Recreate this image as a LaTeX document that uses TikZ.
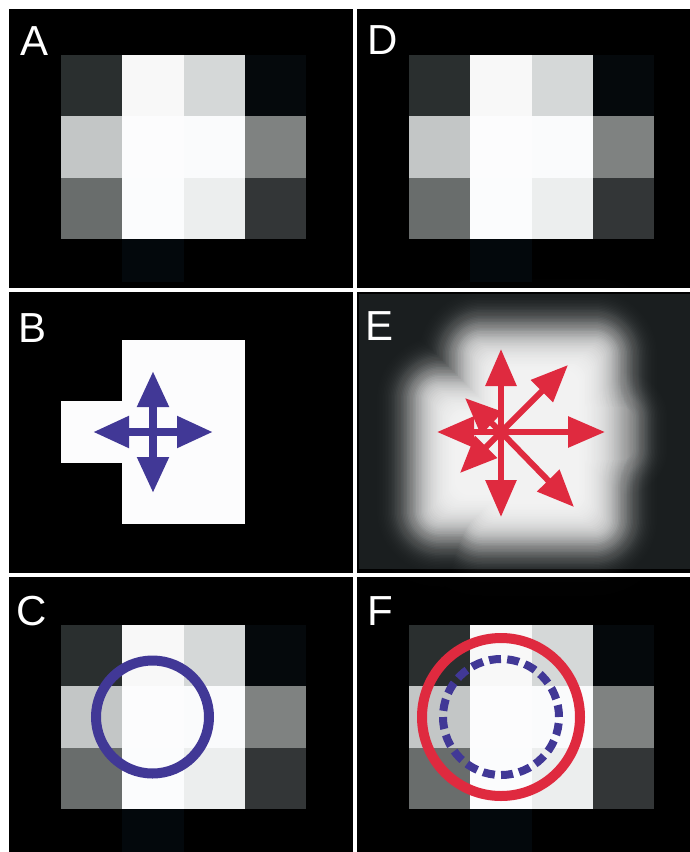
\documentclass[tikz,border=0pt]{standalone}
\usepackage{fontspec}
\setmainfont{Liberation Sans}
\usetikzlibrary{arrows.meta}

% grey levels of the 4x3 pixel grid
\definecolor{g11}{HTML}{2A2F2F}
\definecolor{g12}{HTML}{F8F8F8}
\definecolor{g13}{HTML}{D5D8D8}
\definecolor{g14}{HTML}{05090C}
\definecolor{g21}{HTML}{C3C6C6}
\definecolor{g22}{HTML}{FCFCFD}
\definecolor{g23}{HTML}{FAFBFC}
\definecolor{g24}{HTML}{7F8281}
\definecolor{g31}{HTML}{696D6C}
\definecolor{g32}{HTML}{FBFCFD}
\definecolor{g33}{HTML}{ECEEEE}
\definecolor{g34}{HTML}{333637}
\definecolor{faintcol}{HTML}{03080C}
\definecolor{blurbg}{HTML}{1A1E1F}
\definecolor{arrowblue}{HTML}{413896}
\definecolor{arrowred}{HTML}{DF2A3F}

\newcommand{\pixgrid}[2]{%
  \begin{scope}[shift={(#1,#2)}]
    \fill[faintcol] (61.25,183.75) rectangle ++(61.25,43);
    \foreach \c/\r/\tone in {0/0/g11,1/0/g12,2/0/g13,3/0/g14,
                             0/1/g21,1/1/g22,2/1/g23,3/1/g24,
                             0/2/g31,1/2/g32,2/2/g33,3/2/g34}
      \fill[\tone] ({\c*61.25},{\r*61.25}) rectangle ++(61.25,61.25);
  \end{scope}}

\begin{document}
\begin{tikzpicture}[x=1pt,y=-1pt,
  panel/.style={fill=black},
  tag/.style={text=white,font=\fontsize{42}{42}\selectfont,inner sep=0pt,anchor=base west},
  bluearrow/.style={draw=arrowblue,line width=8pt,>={Triangle[length=36pt,width=30pt]},<->},
  redarrow/.style={draw=arrowred,line width=6pt,-{Triangle[length=37pt,width=30pt]}},
  ring/.style={line width=#1},
  glow/.style={fill=white,fill opacity=#1}]
  \useasboundingbox (0,0) rectangle (690,852);
  \fill[white] (0,0) rectangle (690,852);

  % panels
  \fill[panel] (9,9) rectangle (353,288);
  \fill[panel] (357,9) rectangle (690,288);
  \fill[panel] (9,292) rectangle (353,573);
  \fill[panel] (357,292) rectangle (690,573);
  \fill[panel] (9,577) rectangle (353,852);
  \fill[panel] (357,577) rectangle (690,852);

  % A, D, C, F: raw pixels
  \pixgrid{61}{55}
  \pixgrid{409}{55}
  \pixgrid{61}{625}
  \pixgrid{409}{625}

  % B: thresholded region with its four moves
  \fill[g22] (122.25,340) rectangle (245,524);
  \fill[g22] (61,401.25) rectangle (122.25,462.5);
  \coordinate (bmid) at (153,432);
  \coordinate (bw) at (93,432);
  \coordinate (be) at (213,432);
  \coordinate (bn) at (153,371);
  \coordinate (bs) at (153,493);
  \draw[bluearrow] (bw) -- (be);
  \draw[bluearrow] (bn) -- (bs);

  % E: blurred region, built up from soft layers
  \fill[blurbg] (359,294) rectangle (690,569);
  \foreach \d in {-45,-43.5,...,54} {
    \pgfmathsetmacro{\alp}{1-(1+exp(-(\d+1.5)/11))/(1+exp(-\d/11))}
    \pgfmathsetmacro{\bet}{1-(1-\alp)^0.34}
    \pgfmathsetmacro{\rc}{max(\d+30,14)}
    \pgfmathsetmacro{\rr}{max(\d+26,8)}
    \fill[glow=\alp,rounded corners=\rc pt]
      ({452-\d},{325-\d}) rectangle ({624+\d},{549+\d})
      ({410-\d},{370-\d}) rectangle (520,{540+\d});
    \ifdim\d pt<-15pt\else
      \fill[glow=\bet,rounded corners=\rr pt]
        (560,{392-\d}) rectangle ({648+\d},{475+\d});
    \fi
  }
  \coordinate (emid) at (501,432);
  \foreach \dx/\dy [count=\i] in {0/-83,0/85,104/0,-64/0,67/-67,73/75,-36/-34,-41/41} {
    \path (emid) ++(\dx,\dy) coordinate (etip\i);
    \draw[redarrow] (emid) -- (etip\i);
  }

  % C and F: sampling windows
  \coordinate (cmid) at (152.5,717);
  \draw[arrowblue,ring=10pt] (cmid) circle[radius=56.5pt];
  \coordinate (fmid) at (501,717);
  \draw[arrowred,ring=10pt] (fmid) circle[radius=79pt];
  \draw[arrowblue,ring=8pt,dash pattern=on 12pt off 6.22pt] (fmid) circle[radius=58pt];

  % panel letters
  \node[tag] (labA) at (20,55) {A};
  \node[tag] (labB) at (18,342) {B};
  \node[tag] (labC) at (16,625) {C};
  \node[tag] (labD) at (367,54) {D};
  \node[tag] (labE) at (365,340) {E};
  \node[tag] (labF) at (367,625) {F};
\end{tikzpicture}
\end{document}
